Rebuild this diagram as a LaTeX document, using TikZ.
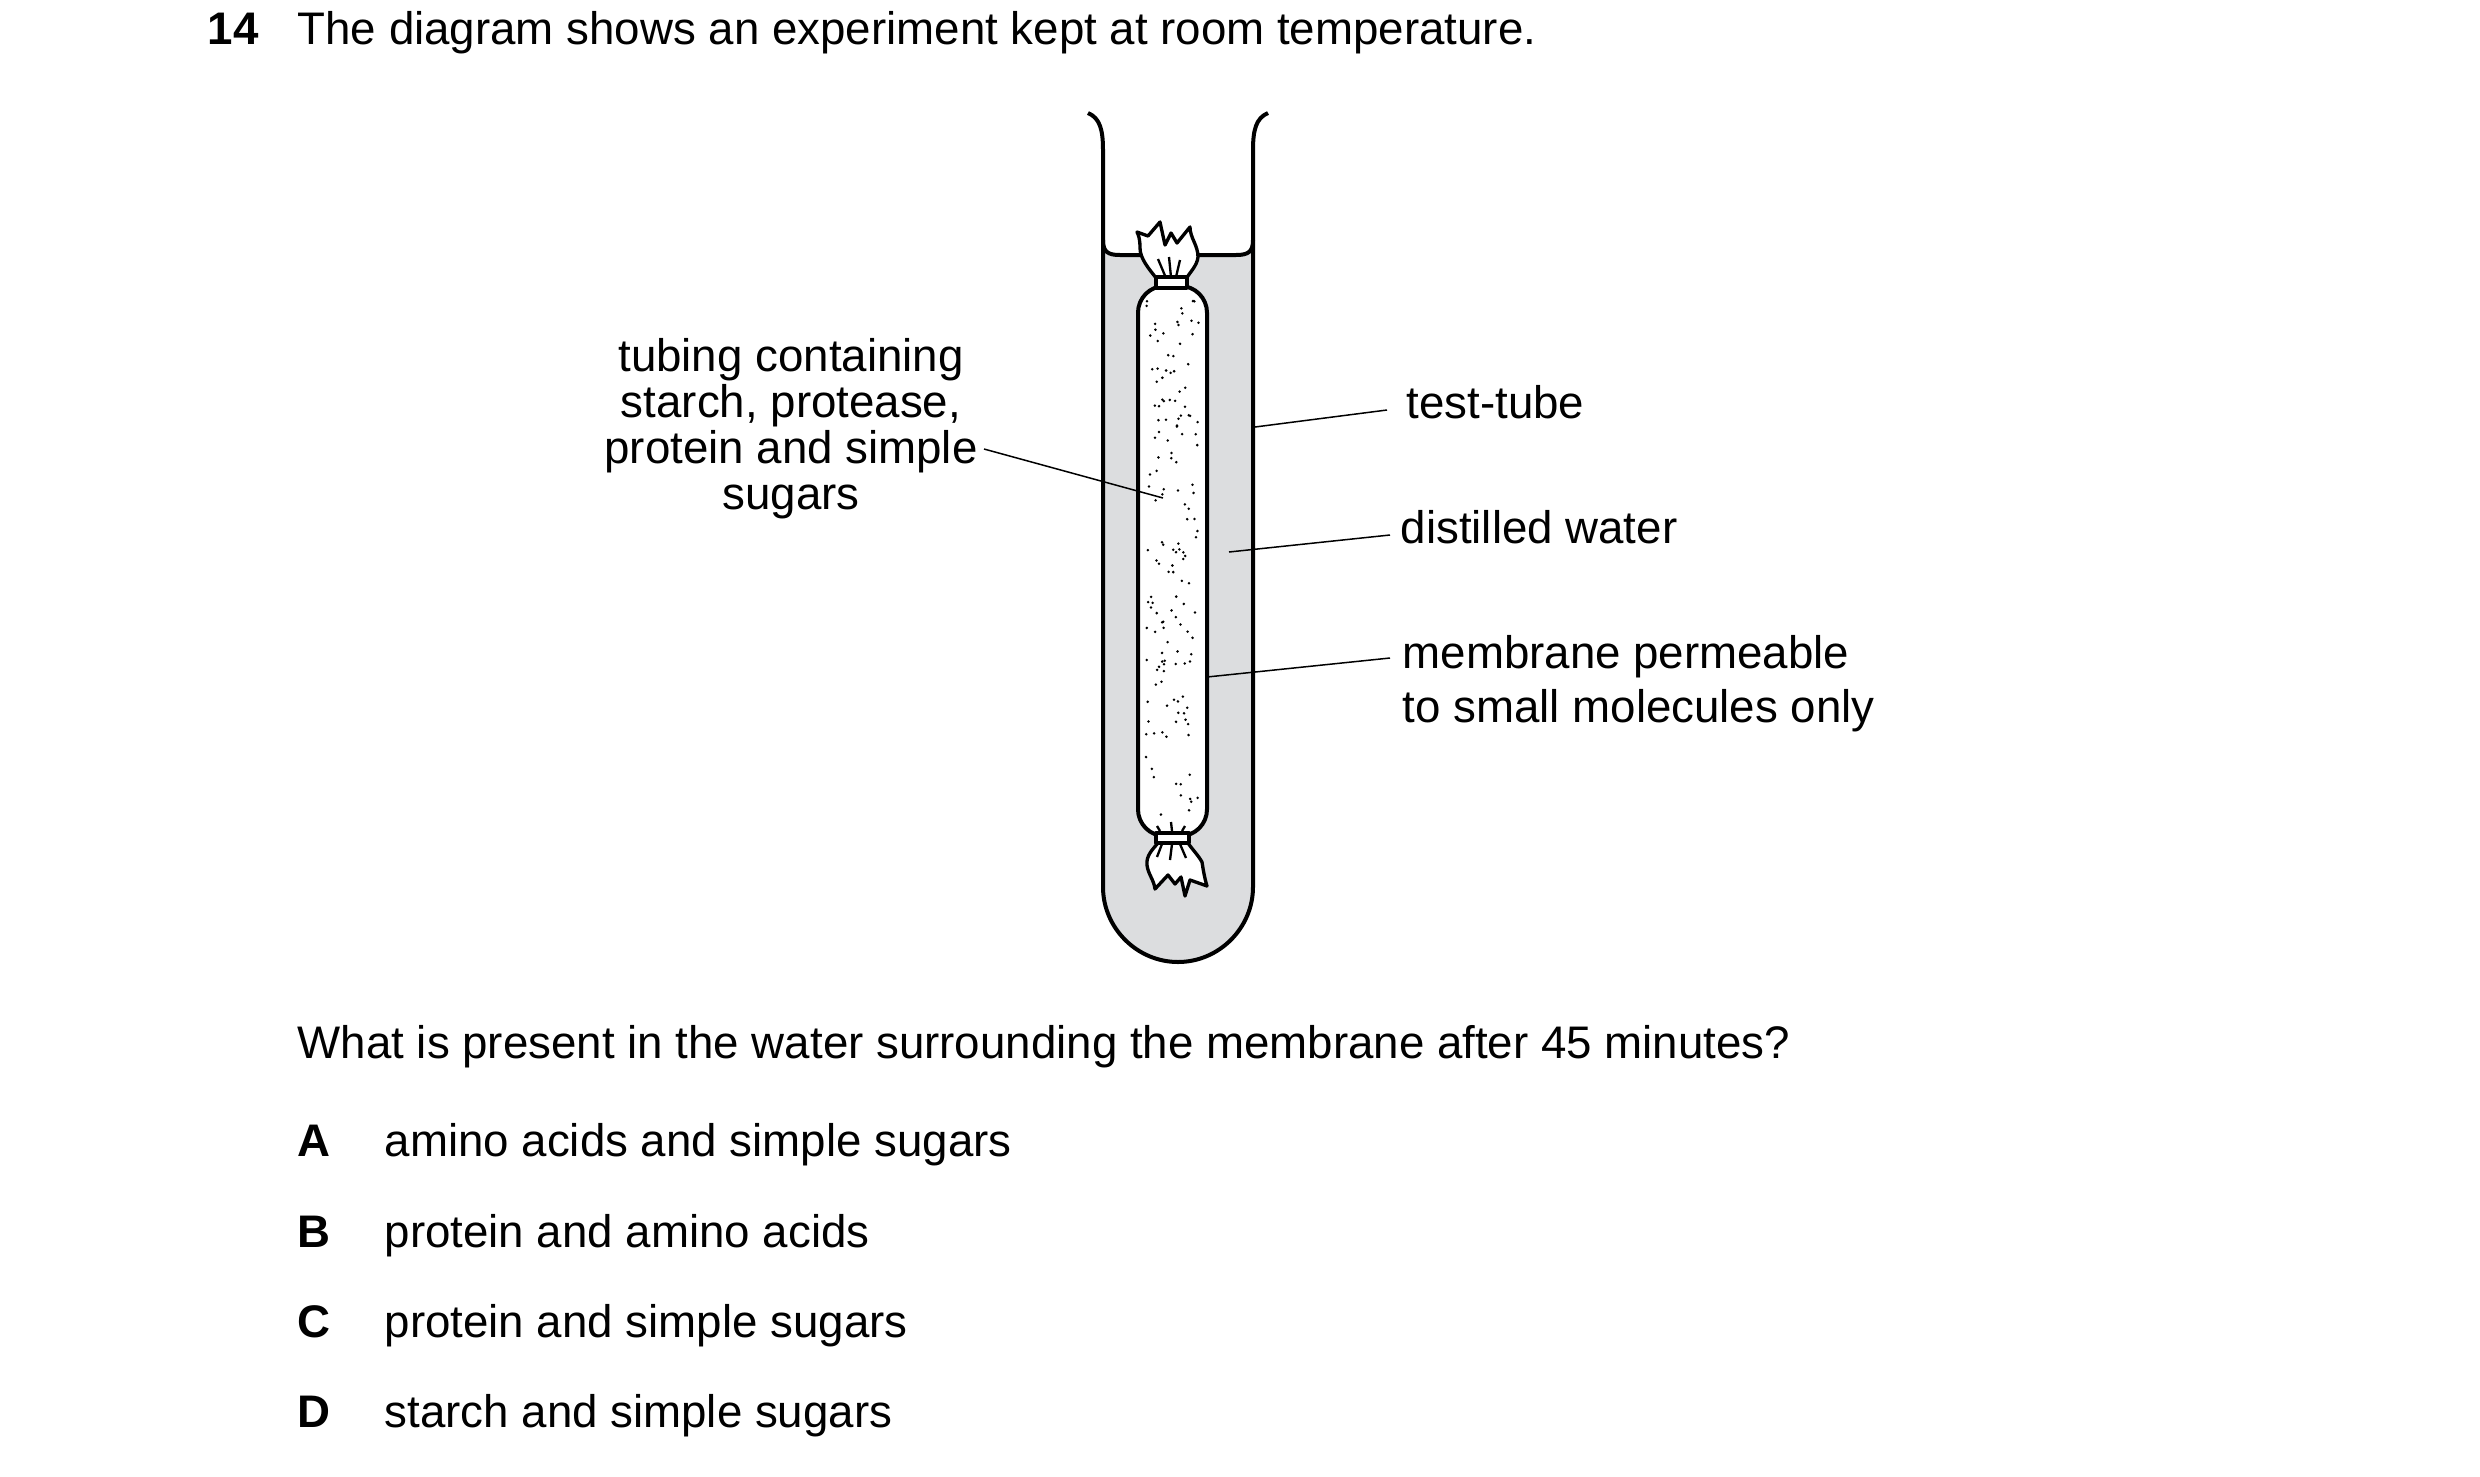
\documentclass[tikz,border=0pt]{standalone}
\usepackage{fontspec}
\setmainfont{Liberation Sans}
\begin{document}
\begin{tikzpicture}[x=0.3pt,y=-0.3pt,
  txt/.style={anchor=base west,inner sep=0,font=\fontsize{13.7}{13.8}\selectfont},
  lead/.style={line width=0.45pt},
  thick/.style={line width=1.2pt,line join=round},
  knot/.style={line width=1pt,fill=white,line join=round}]
\useasboundingbox (0,0) rectangle (2480,1477);
\definecolor{water}{RGB}{220,221,223}
% water
\fill[water] (1103,240) .. controls (1103,252) and (1108,255) .. (1120,255) -- (1236,255)
  .. controls (1248,255) and (1253,252) .. (1253,240) -- (1253,887)
  .. controls (1253,928) and (1219,962) .. (1178,962) .. controls (1137,962) and (1103,928) .. (1103,887) -- cycle;
\draw[thick] (1103,240) .. controls (1103,252) and (1108,255) .. (1120,255) -- (1236,255)
  .. controls (1248,255) and (1253,252) .. (1253,240);
% tube
\draw[thick] (1088,113) .. controls (1100,118) and (1103,130) .. (1103,150) -- (1103,887)
  .. controls (1103,928) and (1137,962) .. (1178,962) .. controls (1219,962) and (1253,928) .. (1253,887)
  -- (1253,150) .. controls (1253,130) and (1256,118) .. (1268,113);
% tubing
\draw[thick,fill=white,rounded corners=8pt] (1138,286) rectangle (1207,836);
\pgfmathsetseed{11}
\foreach \i in {1,...,150}{
  \pgfmathsetmacro\xx{1146+53*rnd}
  \pgfmathsetmacro\yy{298+525*rnd}
  \fill (\xx,\yy) circle[radius=1.4];
}
% top knot
\draw[knot] (1157,279) .. controls (1148,268) and (1140,258) .. (1140,248) .. controls (1140,240) and (1139,236) .. (1137,232)
  -- (1148,236) -- (1160,222) -- (1165,245) -- (1171,233) -- (1177,243) -- (1190,227)
  .. controls (1190,238) and (1198,245) .. (1198,257) .. controls (1197,266) and (1190,272) .. (1186,279) -- cycle;
\draw[line width=0.7pt] (1166,278) -- (1158,259) (1171,277) -- (1169,257) (1176,277) -- (1180,260);
\draw[knot] (1156,277) rectangle (1187,288);
% bottom knot
\draw[knot] (1158,843) .. controls (1152,850) and (1146,856) .. (1147,865) .. controls (1148,874) and (1154,880) .. (1155,889)
  -- (1168,875) -- (1175,884) -- (1181,877) -- (1185,896) -- (1190,880) -- (1207,886)
  .. controls (1204,876) and (1203,868) .. (1202,862) .. controls (1198,855) and (1192,849) .. (1188,843) -- cycle;
\draw[line width=0.7pt] (1162,844) -- (1157,857) (1172,844) -- (1170,860) (1180,844) -- (1186,858);
\draw[line width=0.7pt] (1160,831) -- (1157,826) (1172,831) -- (1171,822) (1182,831) -- (1185,826);
\draw[knot] (1156,833) rectangle (1189,843);
% labels
\node[txt,font=\fontsize{13.7}{13.8}\selectfont\bfseries] (n14) at (207,44) {14};
\node[txt] (title) at (297,44) {The diagram shows an experiment kept at room temperature.};
\node[txt,anchor=base,align=center] (tub) at (791,509) {tubing containing\\starch, protease,\\protein and simple\\sugars};
\coordinate (tubA) at (984,449); \coordinate (tubB) at (1163,498);
\draw[lead] (tubA) -- (tubB);
\node[txt] (tt) at (1406,418) {test-tube};
\coordinate (ttA) at (1255,427); \coordinate (ttB) at (1387,410);
\draw[lead] (ttA) -- (ttB);
\node[txt] (dw) at (1400,543) {distilled water};
\coordinate (dwA) at (1229,552); \coordinate (dwB) at (1390,535);
\draw[lead] (dwA) -- (dwB);
\node[txt,align=left] (mem) at (1402,722) {membrane permeable\\[2.4pt]to small molecules only};
\coordinate (memA) at (1207,677); \coordinate (memB) at (1390,658);
\draw[lead] (memA) -- (memB);
\node[txt] (q) at (297,1058) {What is present in the water surrounding the membrane after 45 minutes?};
\foreach \L/\T/\Y in {A/amino acids and simple sugars/1156, B/protein and amino acids/1247, C/protein and simple sugars/1337, D/starch and simple sugars/1427}{
  \node[txt,font=\fontsize{13.7}{13.8}\selectfont\bfseries] (l\L) at (297,\Y) {\L};
  \node[txt] (o\L) at (384,\Y) {\T};
}
\end{tikzpicture}
\end{document}
